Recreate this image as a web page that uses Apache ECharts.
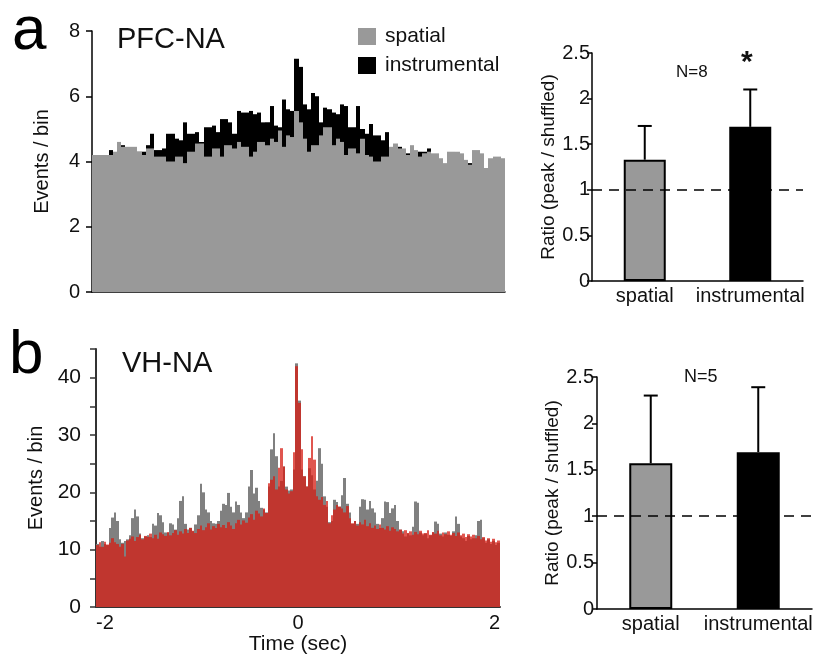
<!DOCTYPE html>
<html><head><meta charset="utf-8">
<script src="https://cdn.jsdelivr.net/npm/echarts@6/dist/echarts.min.js"></script>
<style>html,body{margin:0;padding:0;background:#fff}#c{width:817px;height:656px}</style>
</head><body><div id="c"></div>
<script>
// ---- Panel a: PFC-NA cross-correlogram (100 bins, -2..2 s) ----
const pfcSpatial = [
 4.2,4.2,4.2,4.2,4.2,4.3,4.6,4.45,4.45,4.45,
 4.45,4.3,4.2,4.4,4.4,4.15,4.15,4.15,4.0,4.0,
 4.15,4.15,3.95,4.3,4.3,4.55,4.55,4.15,4.15,4.4,
 4.4,4.15,4.5,4.5,4.4,4.6,4.45,4.45,4.15,4.3,
 4.6,4.6,4.5,4.7,4.6,4.95,4.45,4.8,4.75,5.55,
 5.2,4.7,4.3,4.5,4.5,4.8,5.05,5.05,4.5,4.7,
 4.6,4.2,4.4,4.4,4.25,4.7,4.2,4.15,4.0,4.0,
 4.15,4.15,4.45,4.55,4.4,4.4,4.2,4.5,4.35,4.15,
 4.25,4.3,4.25,4.25,4.1,3.95,4.3,4.3,4.3,4.25,
 4.05,3.9,4.35,4.35,4.25,3.8,4.1,4.15,4.15,4.1
];
const pfcInstrumental = [
 4.15,4.15,4.15,4.2,4.35,4.25,4.4,4.5,4.4,4.35,
 4.3,4.3,4.3,4.5,4.85,4.35,4.35,4.4,4.85,4.85,
 4.7,4.65,5.2,4.85,4.85,4.9,4.6,5.05,5.05,5.1,
 4.9,5.3,5.3,5.2,4.85,5.55,5.5,5.5,5.55,5.45,
 5.5,5.2,5.2,5.7,5.1,5.05,5.9,5.6,5.55,7.15,
 6.9,5.75,5.6,6.1,6.0,5.2,5.65,5.6,5.5,5.45,
 5.75,5.7,5.05,5.05,5.7,5.0,4.85,5.15,4.8,4.8,
 4.65,4.9,4.4,4.5,4.45,4.3,4.25,4.4,4.3,4.3,
 4.3,4.4,4.2,4.1,4.0,3.9,4.1,4.2,4.1,4.0,
 3.95,3.95,4.1,4.1,4.0,3.75,4.0,4.0,4.0,3.95
];
// ---- Panel b: VH-NA cross-correlogram (160 bins, -2..2 s) ----
const vhSpatial = [
 11,10.5,11.5,11,10.8,13.8,15.6,16.5,15,11.8,
 11.2,11.5,11.8,12.5,15.5,17,15.8,12.8,12,12.3,
 12.5,12.2,14.5,14.2,16.4,16,14.8,13,12.9,14.6,
 14.4,13.5,15.5,18.5,19.3,14.5,13.5,13.8,13.2,14.4,
 16,21.5,20,17,16.5,15,14.6,14.5,15,16.8,
 18,17.8,19.9,17.5,16.5,18.4,17.8,16.5,15.5,16.5,
 21,23.9,19.8,20.8,18.5,17.3,17,16.5,21,27.5,
 30.3,26.3,21,22,24.5,21,20.3,20.5,24,42.5,
 36,24,22.8,21,24.2,23,20.5,22,27.7,25,
 19.3,17.5,14.8,15,18.7,18.3,17.5,19.5,22.5,18,
 16.5,14.5,15,14.5,17.5,18.8,18.7,17,18.5,17.2,
 16.5,14.5,13.8,15.5,18.4,18.3,16.4,17.2,17.8,15,
 13.5,13.2,12.3,12.8,12.5,14,18.4,18.2,13,12.5,
 12.8,12,12.5,13,14.9,14.5,12.8,12.3,13,12.6,
 12.4,13.2,15.8,14.5,12.3,12,11.5,12.4,11.8,12,
 12.5,15,15.2,12,11.2,11.8,11,11.5,10.8,11.2
];
const vhInstrumental = [
 10.8,11.3,10.5,11.4,10.9,11.2,12,11.3,11,10.5,
 11,8.8,11.6,11.9,12.3,11.5,12.2,12.6,11.8,12.4,
 12.2,12.8,12,12.6,11.9,13,12.7,12.4,13.1,12.5,
 12.9,13.4,12.6,13.2,12.8,13.6,12.9,13.8,13.3,12.9,
 13.6,14.2,13.4,13.9,14.6,13.5,14.1,13.8,14.5,13.9,
 14.3,13.8,14.8,14.2,13.6,14.6,15.2,14.4,15.1,14.7,
 15.6,16.2,15.2,16.8,16.3,15.8,17.2,16.4,21.6,22.2,
 22.8,20.5,24.3,27.7,24.5,20.5,19.8,20.2,27,42,
 35.6,27.5,22.8,21,26,29.8,25.7,19.3,18.7,19.2,
 17.8,18.5,14.6,16,17,17.8,17.5,17.2,16.5,17.6,
 15.5,14.6,15,14.2,14.8,14.4,15.2,14.1,14.6,13.8,
 14.2,13.6,14.4,13.8,13.5,14.1,13.3,13.9,13.6,13.2,
 13.5,12.8,13.4,12.9,13.2,12.6,13.1,12.7,13.3,12.8,
 12.9,13.4,12.6,13.1,12.8,13.3,12.5,13,12.7,13.2,
 12.6,12.9,12.4,13,12.5,12.8,12.2,12.7,12.3,12.6,
 12,12.4,11.8,12.2,11.6,12,11.4,11.9,11.3,11.6
];
// ---- Ratio bar charts ----
const barCategories = ['spatial', 'instrumental'];
const pfcRatio = [1.33, 1.69];
const pfcRatioErrTop = [1.70, 2.10];
const vhRatio = [1.57, 1.69];
const vhRatioErrTop = [2.30, 2.39];
const timeRange = [-2, 2];

const binsA = pfcSpatial.map((_, i) => String(i));
const binsB = vhSpatial.map((_, i) => String(i));

const FONT = 'Liberation Sans, Arial, sans-serif';
const chart = echarts.init(document.getElementById('c'), null, {renderer: 'canvas'});

// histogram bins drawn as rects; edges computed from the first bin edge so neighbours share whole-pixel edges
function histSeries(name, xi, yi, data, color, z) {
  return {
    type: 'custom', name: name, xAxisIndex: xi, yAxisIndex: yi, z: z, silent: true,
    itemStyle: {color: color},
    data: data.map((v, i) => [i, v]),
    renderItem(params, api) {
      const i = api.value(0);
      const top = api.coord([i, api.value(1)]);
      const base = api.coord([i, 0]);
      const bw = api.size([1, 0])[0];
      const first = api.coord([0, 0])[0] - bw / 2;
      const x0 = Math.round(first + i * bw), x1 = Math.round(first + (i + 1) * bw);
      return {type: 'rect', shape: {x: x0, y: top[1], width: x1 - x0, height: base[1] - top[1]},
              style: {fill: color}};
    }
  };
}
function errorSeries(xi, yi, means, tops) {
  return {
    type: 'custom', xAxisIndex: xi, yAxisIndex: yi, z: 4, silent: true,
    data: means.map((m, i) => [i, tops[i], m]),
    renderItem(params, api) {
      const p1 = api.coord([api.value(0), api.value(2)]);
      const p2 = api.coord([api.value(0), api.value(1)]);
      return {type: 'group', children: [
        {type: 'line', shape: {x1: p1[0], y1: p1[1], x2: p2[0], y2: p2[1]}, style: {stroke: '#000', lineWidth: 2}},
        {type: 'line', shape: {x1: p2[0] - 7, y1: p2[1], x2: p2[0] + 7, y2: p2[1]}, style: {stroke: '#000', lineWidth: 2}}
      ]};
    }
  };
}
function ratioBars(xi, yi, vals, bw) {
  return {
    type: 'bar', name: 'ratio', xAxisIndex: xi, yAxisIndex: yi, barWidth: bw, z: 2,
    data: vals.map((v, i) => ({value: v, itemStyle: {color: i === 0 ? '#999999' : '#000000'}})),
    itemStyle: {borderColor: '#000', borderWidth: 2},
    markLine: {
      silent: true, symbol: 'none', z: 5,
      label: {show: false},
      lineStyle: {color: '#000', type: [10, 7], width: 1.6},
      data: [{yAxis: 1}]
    }
  };
}
const tickLab = {fontFamily: FONT, fontSize: 20, color: '#111'};
const nameSty = {fontFamily: FONT, fontSize: 20, color: '#111'};

const option = {
  animation: false,
  backgroundColor: '#fff',
  textStyle: {fontFamily: FONT},
  grid: [
    {left: 92, top: 31, width: 413, height: 261},
    {left: 592, top: 53, width: 211, height: 228},
    {left: 96, top: 349, width: 404, height: 258},
    {left: 597, top: 377, width: 215, height: 232}
  ],
  legend: {
    left: 358, top: 26, orient: 'vertical', itemWidth: 18, itemHeight: 17, itemGap: 8,
    icon: 'rect', selectedMode: false, padding: 0,
    textStyle: {fontFamily: FONT, fontSize: 21, color: '#111', padding: [0, 0, 0, 4]},
    data: ['spatial', 'instrumental']
  },
  xAxis: [
    {type: 'category', gridIndex: 0, data: binsA, boundaryGap: true,
     axisLine: {lineStyle: {color: '#000', width: 1.5}}, axisTick: {show: false}, axisLabel: {show: false}},
    {type: 'category', gridIndex: 1, data: barCategories,
     axisLine: {lineStyle: {color: '#000', width: 1.5}}, axisTick: {show: false},
     axisLabel: Object.assign({margin: 5, interval: 0}, tickLab)},
    {type: 'category', gridIndex: 2, data: binsB, boundaryGap: true,
     axisLine: {lineStyle: {color: '#333', width: 2}}, axisTick: {show: false}, axisLabel: {show: false}},
    {type: 'value', gridIndex: 2, min: timeRange[0], max: timeRange[1], interval: 2, position: 'bottom',
     axisLine: {show: false}, axisTick: {show: false}, splitLine: {show: false},
     axisLabel: Object.assign({margin: 6, showMinLabel: true, showMaxLabel: true,
                               alignMinLabel: 'left', alignMaxLabel: 'right'}, tickLab),
     name: 'Time (sec)', nameLocation: 'middle', nameGap: 26, nameTextStyle: Object.assign({}, nameSty, {fontSize: 21})},
    {type: 'category', gridIndex: 3, data: barCategories,
     axisLine: {lineStyle: {color: '#000', width: 1.5}}, axisTick: {show: false},
     axisLabel: Object.assign({margin: 5, interval: 0}, tickLab)}
  ],
  yAxis: [
    {type: 'value', gridIndex: 0, min: 0, max: 8, interval: 2, splitLine: {show: false},
     axisLine: {show: true, onZero: false, lineStyle: {color: '#000', width: 1.5}},
     axisTick: {show: true, length: 6, lineStyle: {color: '#000', width: 1.5}},
     axisLabel: Object.assign({margin: 12}, tickLab),
     name: 'Events / bin', nameLocation: 'middle', nameRotate: 90, nameGap: 40, nameTextStyle: nameSty},
    {type: 'value', gridIndex: 1, min: 0, max: 2.5, interval: 0.5, splitLine: {show: false},
     axisLine: {show: true, onZero: false, lineStyle: {color: '#000', width: 1.5}},
     axisTick: {show: true, length: 5, lineStyle: {color: '#000', width: 1.5}},
     axisLabel: Object.assign({margin: 2}, tickLab),
     name: 'Ratio (peak / shuffled)', nameLocation: 'middle', nameRotate: 90, nameGap: 29, nameTextStyle: Object.assign({}, nameSty, {fontSize: 19})},
    {type: 'value', gridIndex: 2, min: 0, max: 45, interval: 5, splitLine: {show: false},
     axisLine: {show: true, onZero: false, lineStyle: {color: '#333', width: 2}},
     axisTick: {show: true, length: 6, lineStyle: {color: '#333', width: 1.5}},
     axisLabel: Object.assign({}, tickLab, {margin: 15, fontSize: 21, formatter: v => (v % 10 === 0 ? String(v) : '')}),
     name: 'Events / bin', nameLocation: 'middle', nameRotate: 90, nameGap: 50, nameTextStyle: nameSty},
    {type: 'value', gridIndex: 3, min: 0, max: 2.5, interval: 0.5, splitLine: {show: false},
     axisLine: {show: true, onZero: false, lineStyle: {color: '#000', width: 1.5}},
     axisTick: {show: true, length: 5, lineStyle: {color: '#000', width: 1.5}},
     axisLabel: Object.assign({margin: 3}, tickLab),
     name: 'Ratio (peak / shuffled)', nameLocation: 'middle', nameRotate: 90, nameGap: 34, nameTextStyle: Object.assign({}, nameSty, {fontSize: 19})}
  ],
  series: [
    histSeries('instrumental', 0, 0, pfcInstrumental, '#000000', 2),
    histSeries('spatial', 0, 0, pfcSpatial, '#999999', 3),
    ratioBars(1, 1, pfcRatio, 42),
    errorSeries(1, 1, pfcRatio, pfcRatioErrTop),
    histSeries('VH spatial', 2, 2, vhSpatial, '#808080', 2),
    histSeries('VH instrumental', 2, 2, vhInstrumental, 'rgba(214,30,20,0.75)', 3),
    ratioBars(4, 3, vhRatio, 43),
    errorSeries(4, 3, vhRatio, vhRatioErrTop)
  ],
  graphic: [
    {type: 'text', left: 12, top: 1, style: {text: 'a', font: '62px ' + FONT, fill: '#000'}},
    {type: 'text', left: 9, top: 325, style: {text: 'b', font: '62px ' + FONT, fill: '#000'}},
    {type: 'text', left: 117, top: 25, style: {text: 'PFC-NA', font: '29px ' + FONT, fill: '#111'}},
    {type: 'text', left: 122, top: 349, style: {text: 'VH-NA', font: '29px ' + FONT, fill: '#111'}},
    {type: 'text', left: 676, top: 64, style: {text: 'N=8', font: '17px ' + FONT, fill: '#111'}},
    {type: 'text', left: 741, top: 48, style: {text: '*', font: 'bold 30px ' + FONT, fill: '#111'}},
    {type: 'text', left: 684, top: 368, style: {text: 'N=5', font: '18px ' + FONT, fill: '#111'}}
  ]
};
chart.setOption(option);
</script></body></html>
